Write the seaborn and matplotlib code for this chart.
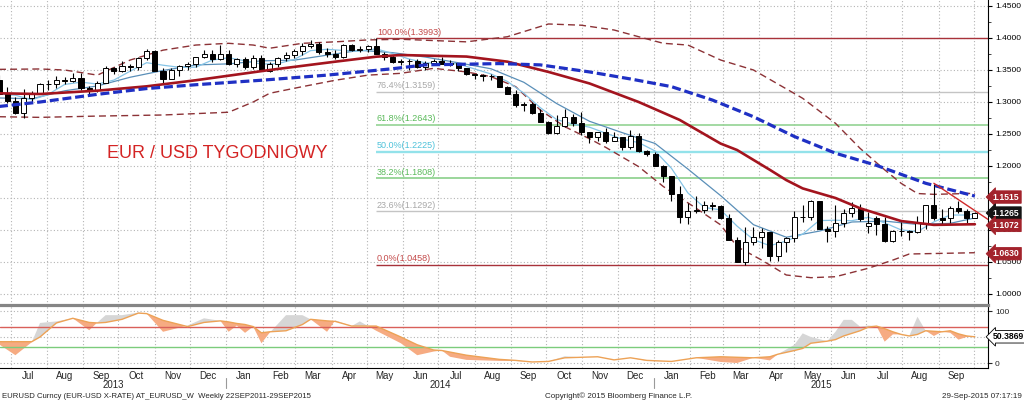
"""
EUR/USD weekly candlestick chart (Bloomberg style) with moving averages,
Bollinger bands, Fibonacci retracement and an oscillator panel.
"""

import matplotlib
matplotlib.use("Agg")
import matplotlib.pyplot as plt
import matplotlib.dates as mdates
import matplotlib.transforms as mtransforms
from matplotlib.ticker import FixedLocator
import numpy as np
import pandas as pd
import seaborn as sns

sns.set_style("white")
plt.rcParams["font.family"] = ["Liberation Sans", "DejaVu Sans"]

# ---- weekly candles, first week ends 2013-06-21 ----
first_week = "2013-06-21"
opens = [1.3350, 1.3120, 1.3010, 1.2830, 1.3070, 1.3140, 1.3275, 1.3280, 1.3340, 1.3335,
         1.3380, 1.3220, 1.3180, 1.3295, 1.3525, 1.3490, 1.3555, 1.3545, 1.3680, 1.3800,
         1.3485, 1.3365, 1.3500, 1.3560, 1.3590, 1.3705, 1.3745, 1.3675, 1.3745, 1.3590,
         1.3665, 1.3540, 1.3680, 1.3490, 1.3600, 1.3690, 1.3740, 1.3800, 1.3875, 1.3910,
         1.3780, 1.3750, 1.3700, 1.3885, 1.3810, 1.3830, 1.3870, 1.3755, 1.3700, 1.3630,
         1.3635, 1.3640, 1.3540, 1.3610, 1.3645, 1.3595, 1.3605, 1.3525, 1.3430, 1.3425,
         1.3410, 1.3400, 1.3240, 1.3130, 1.2950, 1.2965, 1.2830, 1.2685, 1.2520, 1.2630,
         1.2760, 1.2670, 1.2525, 1.2450, 1.2525, 1.2390, 1.2450, 1.2290, 1.2470, 1.2230,
         1.2185, 1.2000, 1.1840, 1.1565, 1.1205, 1.1290, 1.1315, 1.1390, 1.1380, 1.1195,
         1.0845, 1.0495, 1.0820, 1.0890, 1.0970, 1.0600, 1.0805, 1.0870, 1.1200, 1.1200,
         1.1450, 1.1015, 1.0990, 1.1110, 1.1260, 1.1350, 1.1060, 1.1190, 1.1100, 1.0830,
         1.0980, 1.0985, 1.0970, 1.1110, 1.1385, 1.1185, 1.1190, 1.1340, 1.1300, 1.1195]
highs = [1.3418, 1.3238, 1.3080, 1.3208, 1.3175, 1.3298, 1.3345, 1.3400, 1.3390, 1.3450,
         1.3450, 1.3250, 1.3330, 1.3570, 1.3545, 1.3645, 1.3590, 1.3705, 1.3833, 1.3820,
         1.3530, 1.3535, 1.3580, 1.3620, 1.3710, 1.3810, 1.3810, 1.3893, 1.3815, 1.3688,
         1.3700, 1.3740, 1.3740, 1.3630, 1.3700, 1.3775, 1.3825, 1.3915, 1.3967, 1.3945,
         1.3840, 1.3810, 1.3905, 1.3905, 1.3870, 1.3890, 1.3993, 1.3775, 1.3735, 1.3675,
         1.3670, 1.3677, 1.3645, 1.3679, 1.3700, 1.3650, 1.3615, 1.3530, 1.3445, 1.3445,
         1.3445, 1.3400, 1.3250, 1.3180, 1.2995, 1.3000, 1.2885, 1.2705, 1.2790, 1.2887,
         1.2815, 1.2840, 1.2530, 1.2530, 1.2600, 1.2530, 1.2455, 1.2570, 1.2510, 1.2255,
         1.2215, 1.2010, 1.1845, 1.1680, 1.1423, 1.1534, 1.1450, 1.1445, 1.1390, 1.1245,
         1.0890, 1.1043, 1.1052, 1.1035, 1.0970, 1.0850, 1.0890, 1.1290, 1.1390, 1.1467,
         1.1450, 1.1060, 1.1385, 1.1330, 1.1436, 1.1410, 1.1280, 1.1215, 1.1200, 1.1000,
         1.1130, 1.1000, 1.1215, 1.1390, 1.1714, 1.1330, 1.1370, 1.1460, 1.1330, 1.1280]
lows = [1.3115, 1.2990, 1.2805, 1.2755, 1.3005, 1.3120, 1.3190, 1.3220, 1.3280, 1.3310,
        1.3180, 1.3105, 1.3160, 1.3290, 1.3445, 1.3470, 1.3485, 1.3500, 1.3650, 1.3490,
        1.3295, 1.3365, 1.3400, 1.3500, 1.3540, 1.3695, 1.3625, 1.3655, 1.3575, 1.3550,
        1.3520, 1.3510, 1.3480, 1.3475, 1.3545, 1.3640, 1.3685, 1.3740, 1.3850, 1.3750,
        1.3705, 1.3670, 1.3695, 1.3790, 1.3780, 1.3775, 1.3755, 1.3650, 1.3610, 1.3585,
        1.3503, 1.3525, 1.3500, 1.3580, 1.3590, 1.3570, 1.3490, 1.3420, 1.3365, 1.3333,
        1.3340, 1.3240, 1.3130, 1.2920, 1.2860, 1.2815, 1.2680, 1.2500, 1.2500, 1.2615,
        1.2620, 1.2485, 1.2357, 1.2390, 1.2357, 1.2390, 1.2245, 1.2270, 1.2220, 1.2160,
        1.2000, 1.1754, 1.1460, 1.1115, 1.1098, 1.1260, 1.1270, 1.1315, 1.1175, 1.0840,
        1.0495, 1.0458, 1.0760, 1.0713, 1.0520, 1.0520, 1.0660, 1.0820, 1.1120, 1.1160,
        1.1015, 1.0818, 1.0885, 1.1050, 1.1210, 1.1135, 1.0955, 1.0915, 1.0808, 1.0810,
        1.0905, 1.0850, 1.0960, 1.1015, 1.1155, 1.1085, 1.1105, 1.1265, 1.1105, 1.1180]
closes = [1.3120, 1.3010, 1.2830, 1.3070, 1.3140, 1.3275, 1.3280, 1.3340, 1.3335, 1.3380,
          1.3220, 1.3180, 1.3295, 1.3525, 1.3490, 1.3555, 1.3545, 1.3680, 1.3800, 1.3485,
          1.3365, 1.3500, 1.3560, 1.3590, 1.3705, 1.3745, 1.3675, 1.3745, 1.3590, 1.3665,
          1.3540, 1.3680, 1.3490, 1.3600, 1.3690, 1.3740, 1.3800, 1.3875, 1.3910, 1.3780,
          1.3750, 1.3700, 1.3885, 1.3810, 1.3830, 1.3870, 1.3755, 1.3700, 1.3630, 1.3635,
          1.3640, 1.3540, 1.3610, 1.3645, 1.3595, 1.3605, 1.3525, 1.3430, 1.3425, 1.3410,
          1.3400, 1.3240, 1.3130, 1.2950, 1.2965, 1.2830, 1.2685, 1.2520, 1.2630, 1.2760,
          1.2670, 1.2525, 1.2450, 1.2525, 1.2390, 1.2450, 1.2290, 1.2470, 1.2230, 1.2185,
          1.2000, 1.1840, 1.1565, 1.1205, 1.1290, 1.1315, 1.1390, 1.1380, 1.1195, 1.0845,
          1.0495, 1.0820, 1.0890, 1.0970, 1.0600, 1.0805, 1.0870, 1.1200, 1.1200, 1.1450,
          1.1015, 1.0990, 1.1110, 1.1260, 1.1350, 1.1165, 1.1115, 1.1100, 1.0830, 1.0980,
          1.0985, 1.0970, 1.1110, 1.1385, 1.1185, 1.1150, 1.1340, 1.1300, 1.1195, 1.1265]

# ---- overlays ----
ma_long_dates = ["2013-06-21", "2013-07-26", "2013-09-13", "2013-10-25", "2013-12-06",
                 "2014-01-31", "2014-03-28", "2014-05-23", "2014-06-20", "2014-08-22",
                 "2014-09-26", "2014-11-07", "2014-12-12", "2015-01-16", "2015-02-20",
                 "2015-03-27", "2015-05-01", "2015-06-05", "2015-07-10", "2015-08-21",
                 "2015-10-02"]
ma_long = [1.293, 1.300, 1.312, 1.321, 1.327, 1.334, 1.342, 1.352, 1.358, 1.360,
           1.358, 1.347, 1.336, 1.324, 1.303, 1.277, 1.246, 1.220, 1.201, 1.173, 1.153]

ma_mid_dates = ["2013-06-21", "2013-07-26", "2013-09-13", "2013-10-25", "2013-12-06",
                "2014-02-07", "2014-04-04", "2014-05-09", "2014-05-30", "2014-07-25",
                "2014-08-29", "2014-10-03", "2014-11-07", "2014-12-19", "2015-01-23",
                "2015-02-27", "2015-03-13", "2015-04-10", "2015-04-24", "2015-05-08",
                "2015-06-05", "2015-06-26", "2015-07-31", "2015-08-28", "2015-10-02"]
ma_mid = [1.3136, 1.3125, 1.3177, 1.3245, 1.3340, 1.3500, 1.3630, 1.3708, 1.3734, 1.3710,
          1.3630, 1.3470, 1.3290, 1.3000, 1.2720, 1.2350, 1.2250, 1.1940, 1.1780, 1.1650,
          1.1500, 1.1340, 1.1140, 1.1080, 1.1090]

# fast thin average, every second week (plus the last one)
ma_fast = [1.3124, 1.3106, 1.3034, 1.3119, 1.3274, 1.3311, 1.3280, 1.3342, 1.3482, 1.3614,
           1.3575, 1.3542, 1.3544, 1.3655, 1.3692, 1.3643, 1.3593, 1.3600, 1.3664, 1.3803,
           1.3823, 1.3805, 1.3795, 1.3830, 1.3757, 1.3672, 1.3611, 1.3606, 1.3596, 1.3516,
           1.3438, 1.3321, 1.3137, 1.2912, 1.2726, 1.2653, 1.2607, 1.2512, 1.2421, 1.2366,
           1.2235, 1.1964, 1.1580, 1.1353, 1.1314, 1.1061, 1.0849, 1.0755, 1.0827, 1.0935,
           1.1147, 1.1153, 1.1145, 1.1200, 1.1112, 1.1002, 1.0975, 1.1127, 1.1234, 1.1234,
           1.1250]
# slower thin average, every fourth week (plus the last one)
ma_slow = [1.3063, 1.3051, 1.3175, 1.3251, 1.3387, 1.3492, 1.3579, 1.3596, 1.3643, 1.3654,
           1.3732, 1.3808, 1.3771, 1.3702, 1.3613, 1.3519, 1.3308, 1.2976, 1.2699, 1.2521,
           1.2352, 1.1953, 1.1537, 1.1083, 1.0887, 1.0982, 1.1125, 1.1139, 1.1087, 1.1104,
           1.1189]

band_up_dates = ["2013-06-21", "2013-07-26", "2013-08-16", "2013-09-13", "2013-10-11",
                 "2013-11-08", "2013-12-06", "2014-01-03", "2014-01-24", "2014-02-07",
                 "2014-03-07", "2014-04-04", "2014-05-02", "2014-05-30", "2014-07-25",
                 "2014-08-29", "2014-10-03", "2014-10-31", "2014-11-28", "2014-12-19",
                 "2015-01-09", "2015-01-30", "2015-02-27", "2015-03-27", "2015-05-08",
                 "2015-06-05", "2015-06-26", "2015-07-17", "2015-07-31", "2015-08-14",
                 "2015-08-28", "2015-10-02"]
band_up = [1.3510, 1.3516, 1.3500, 1.3420, 1.3656, 1.3810, 1.3890, 1.3917, 1.3890, 1.3840,
           1.3917, 1.3940, 1.3970, 1.3980, 1.3940, 1.4020, 1.4219, 1.4200, 1.4125, 1.4020,
           1.3917, 1.3890, 1.3656, 1.3500, 1.3058, 1.2667, 1.2276, 1.1940, 1.1730, 1.1570,
           1.1557, 1.1573]

band_lo_dates = ["2013-06-21", "2013-07-26", "2013-09-13", "2013-11-08", "2014-01-03",
                 "2014-01-24", "2014-02-07", "2014-03-07", "2014-04-04", "2014-05-02",
                 "2014-05-30", "2014-06-27", "2014-07-25", "2014-08-15", "2014-09-05",
                 "2014-09-26", "2014-10-17", "2014-11-07", "2014-11-21", "2014-12-19",
                 "2015-01-09", "2015-02-06", "2015-02-27", "2015-03-13", "2015-04-03",
                 "2015-04-24", "2015-05-15", "2015-06-05", "2015-07-03", "2015-07-24",
                 "2015-08-07", "2015-10-02"]
band_lo = [1.2770, 1.2760, 1.2780, 1.2797, 1.2840, 1.3000, 1.3136, 1.3240, 1.3340, 1.3420,
           1.3448, 1.3526, 1.3470, 1.3396, 1.3240, 1.2875, 1.2614, 1.2426, 1.2290, 1.1990,
           1.1680, 1.1340, 1.1080, 1.0740, 1.0530, 1.0297, 1.0255, 1.0270, 1.0402, 1.0530,
           1.0625, 1.0645]

trend_dates = ["2015-08-28", "2015-10-14"]
trend_vals = [1.1730, 1.1156]

fib_start = "2014-05-09"
fib_pcts = ["100.0%", "76.4%", "61.8%", "50.0%", "38.2%", "23.6%", "0.0%"]
fib_levels = [1.3993, 1.3159, 1.2643, 1.2225, 1.1808, 1.1292, 1.0458]

tag_values = [1.1515, 1.1265, 1.1072, 1.0630]
tag_colors = ["#a3232c", "#141414", "#a3232c", "#a3232c"]

# ---- oscillator panel (week index, slow line, fast line) ----
osc_idx = [0, 2, 4, 5, 7, 9, 11, 12, 13, 15, 17, 18, 20, 23, 25, 27, 28, 29, 30, 31,
           32, 33, 35, 37, 38, 40, 41, 43, 44, 46, 49, 51, 53, 54, 55, 57, 59, 61, 63, 65,
           67, 69, 71, 73, 75, 77, 79, 82, 85, 88, 90, 92, 94, 95, 97, 98, 99, 101, 102, 103,
           104, 105, 106, 107, 108, 109, 110, 111, 112, 113, 114, 115, 116, 117, 118, 119]
osc_slow = [41, 41, 41, 50, 77, 86, 78, 77, 78, 84, 96, 95, 82, 70, 78, 81, 79, 76, 74, 70,
            58, 60, 62, 74, 84, 81, 80, 71, 71, 71, 50, 35, 25, 24, 21, 15, 11, 7, 5, 2,
            3, 10, 11, 12, 6, 10, 5, 3, 10, 12, 11, 10, 12, 17, 24, 28, 38, 42, 45, 52,
            57, 62, 69, 71, 66, 60, 55, 52, 55, 62, 61, 60, 62, 56, 52, 50.3869]
osc_fast = [36, 15, 40, 77, 80, 86, 63, 78, 92, 92, 97, 95, 60, 72, 86, 81, 60, 72, 58, 70,
            38, 58, 92, 92, 84, 60, 82, 71, 80, 62, 38, 15, 22, 24, 12, 6, 5, 4, 4, 2,
            3, 13, 11, 12, 6, 10, 4, 3, 10, 2, 0, 10, 5, 17, 35, 57, 50, 42, 60, 83,
            83, 70, 72, 71, 41, 55, 55, 52, 89, 62, 52, 60, 58, 45, 50, 50.3869]
osc_levels = [70, 30]
osc_last = 50.3869

# ---- helpers ----
def dnum(dates):
    return mdates.date2num(pd.to_datetime(dates))


def draw_line(ax, x, vals, color, lw, dashes=None, z=4):
    sns.lineplot(x=x, y=vals, ax=ax, color=color, linewidth=lw, legend=False, zorder=z)
    line = ax.lines[-1]
    if dashes:
        line.set_dashes(dashes)
    return line


def price_tag(ax, value, fc, tc, ec):
    tr = mtransforms.blended_transform_factory(ax.transAxes, ax.transData)
    ax.annotate(f"{value:.4f}", xy=(1.0, value), xycoords=tr, xytext=(3.5, 0),
                textcoords="offset points", ha="left", va="center", fontsize=6.2,
                color=tc, fontweight="bold", zorder=6, annotation_clip=False,
                bbox=dict(boxstyle="larrow,pad=0.2", fc=fc, ec=ec, lw=0.6))


week_x = dnum(pd.date_range(first_week, periods=len(closes), freq="7D"))
o, h, l, c = (np.array(v) for v in (opens, highs, lows, closes))

x_left = week_x[0] + 0.85
x_right = week_x[-1] + 11.2
month_starts = dnum(pd.date_range("2013-07-01", "2015-10-01", freq="MS"))
month_mids = month_starts[:-1] + 15
month_names = [pd.Timestamp(mdates.num2date(m)).strftime("%b") for m in month_mids]

W, H = 1024, 401
fig = plt.figure(figsize=(W / 100, H / 100), dpi=100)
ax = fig.add_axes([0, 1 - 304.5 / H, 988 / W, 304.5 / H])
ax2 = fig.add_axes([0, 1 - 368 / H, 988 / W, (368 - 304.5) / H])

grid_kw = dict(color="#b4b4b4", linestyle=(0, (1, 2)), linewidth=0.8)

# ---- main panel ----
# Bollinger bands
draw_line(ax, dnum(band_up_dates), band_up, "#8c3236", 1.0, dashes=(5, 3), z=2.6)
draw_line(ax, dnum(band_lo_dates), band_lo, "#8c3236", 1.0, dashes=(5, 3), z=2.6)
# thin averages
fast_x = np.append(week_x[::2], week_x[-1])
slow_x = np.append(week_x[::4], week_x[-1])
draw_line(ax, slow_x, ma_slow, "#5a8fb8", 0.9, z=2.7)
draw_line(ax, fast_x, ma_fast, "#86c4e6", 0.9, z=2.8)

# candles
ax.vlines(week_x, l, h, color="black", linewidth=0.8, zorder=3)
body_lo = np.minimum(o, c)
body_h = np.maximum(np.abs(c - o), 0.0007)
ax.bar(week_x, body_h, bottom=body_lo, width=4.3,
       color=np.where(c >= o, "white", "black"), edgecolor="black",
       linewidth=0.7, zorder=3.5)

# thick averages
draw_line(ax, dnum(ma_mid_dates), ma_mid, "#a3141e", 1.9, z=4)
draw_line(ax, dnum(ma_long_dates), ma_long, "#1f30c4", 2.3, dashes=(2.8, 1.2), z=4.2)
draw_line(ax, dnum(trend_dates), trend_vals, "#d02a2a", 1.0, z=4.3)

# Fibonacci retracement
fib_x = dnum([fib_start])[0]
fib_line_colors = ["#a8323a", "#c4c4c4", "#93d393", "#93e2ea", "#93d393", "#c4c4c4", "#a8323a"]
fib_text_colors = ["#c44a4a", "#a8a8a8", "#5aba5a", "#4ec2da", "#5aba5a", "#a8a8a8", "#c44a4a"]
fib_widths = [1.0, 1.0, 1.2, 1.7, 1.3, 1.0, 1.0]
for pct, lvl, lc, tc, lw in zip(fib_pcts, fib_levels, fib_line_colors, fib_text_colors, fib_widths):
    ax.hlines(lvl, fib_x, x_right, color=lc, linewidth=lw, zorder=2.4)
    ax.annotate(f"{pct}({lvl:.4f})", xy=(fib_x, lvl), xytext=(0.5, 1.2),
                textcoords="offset points", ha="left", va="bottom",
                fontsize=6.5, color=tc, zorder=2.5)

ax.text(dnum(["2013-09-21"])[0], 1.2125, "EUR / USD TYGODNIOWY", color="#d42424",
        fontsize=13, ha="left", va="baseline", zorder=5)

ax.set_xlim(x_left, x_right)
ax.set_ylim(1.4 - 266.5 / 640, 1.4 + 38 / 640)
ax.set_xlabel("")
ax.set_ylabel("")
ax.yaxis.tick_right()
price_ticks = np.arange(1.0, 1.451, 0.05)
# the 1.1500 label sits behind the 1.1515 tag in the original
price_labels = ["" if abs(t - 1.15) < 1e-6 else f"{t:.4f}" for t in price_ticks]
ax.set_yticks(price_ticks, labels=price_labels)
ax.yaxis.set_minor_locator(FixedLocator(np.arange(1.025, 1.45, 0.05)))
ax.tick_params(axis="y", which="major", direction="out", length=3, width=0.8,
               pad=2, labelsize=6, colors="black")
ax.tick_params(axis="y", which="minor", direction="out", length=2, width=0.6)
ax.set_xticks(month_starts)
ax.tick_params(axis="x", length=0, labelbottom=False)
ax.grid(True, axis="both", **grid_kw)
ax.set_axisbelow(True)
for side in ("left", "top", "bottom"):
    ax.spines[side].set_visible(False)
ax.spines["right"].set_color("black")
ax.spines["right"].set_linewidth(0.8)

for v, fc in zip(tag_values, tag_colors):
    price_tag(ax, v, fc, "white", fc)

# ---- oscillator panel ----
ox = week_x[osc_idx]
slow = np.array(osc_slow, dtype=float)
fast = np.array(osc_fast, dtype=float)
ax2.fill_between(ox, slow, fast, where=fast >= slow, interpolate=True,
                 color="#d6d6d6", linewidth=0, zorder=2)
ax2.fill_between(ox, slow, fast, where=fast < slow, interpolate=True,
                 color="#f6ab82", linewidth=0, zorder=2)
draw_line(ax2, ox, osc_slow, "#eda256", 1.0, z=3)
ax2.axhline(osc_levels[0], color="#d9605a", linewidth=1.0, zorder=2.5)
ax2.axhline(osc_levels[1], color="#7ccc7c", linewidth=1.0, zorder=2.5)

ax2.set_xlim(x_left, x_right)
ax2.set_ylim(-(368 - 363) / 0.52, 100 + (311 - 304.5) / 0.52)
ax2.set_xlabel("")
ax2.set_ylabel("")
ax2.yaxis.tick_right()
ax2.set_yticks([0, 50, 100], labels=["0", "", "100"])
ax2.tick_params(axis="y", direction="out", length=3, width=0.8, pad=2, labelsize=6)
ax2.set_xticks(month_starts, labels=[""] * len(month_starts))
ax2.set_xticks(month_mids, labels=month_names, minor=True)
ax2.tick_params(axis="x", which="major", direction="out", length=3, width=0.8)
ax2.tick_params(axis="x", which="minor", length=0, pad=2, labelsize=7)
ax2.grid(True, axis="both", which="major", **grid_kw)
ax2.set_axisbelow(True)
ax2.spines["left"].set_visible(False)
ax2.spines["top"].set_color("#858585")
ax2.spines["top"].set_linewidth(2.3)
for side in ("right", "bottom"):
    ax2.spines[side].set_color("black")
    ax2.spines[side].set_linewidth(0.8)

price_tag(ax2, osc_last, "white", "black", "black")

# year labels and separators
yblend = mtransforms.blended_transform_factory(ax2.transData, ax2.transAxes)
year_bounds = [x_left, dnum(["2014-01-01"])[0], dnum(["2015-01-01"])[0], x_right]
for name, a, b in zip(["2013", "2014", "2015"], year_bounds[:-1], year_bounds[1:]):
    ax2.text((a + b) / 2, -0.27, name, transform=yblend, ha="center", va="center",
             fontsize=7, clip_on=False)
for sep in year_bounds[1:3]:
    ax2.plot([sep, sep], [-0.16, -0.32], transform=yblend, color="#9a9a9a",
             linewidth=0.8, clip_on=False)

# footer
fig.text(2 / W, 5 / H, "EURUSD Curncy (EUR-USD X-RATE) AT_EURUSD_W  Weekly 22SEP2011-29SEP2015",
         fontsize=5.6, ha="left", va="center")
fig.text(545 / W, 5 / H, "Copyright\u00a9 2015 Bloomberg Finance L.P.",
         fontsize=5.8, ha="left", va="center")
fig.text(1022 / W, 5 / H, "29-Sep-2015 07:17:19", fontsize=5.8, ha="right", va="center")

fig.savefig("out.png", dpi=100)
